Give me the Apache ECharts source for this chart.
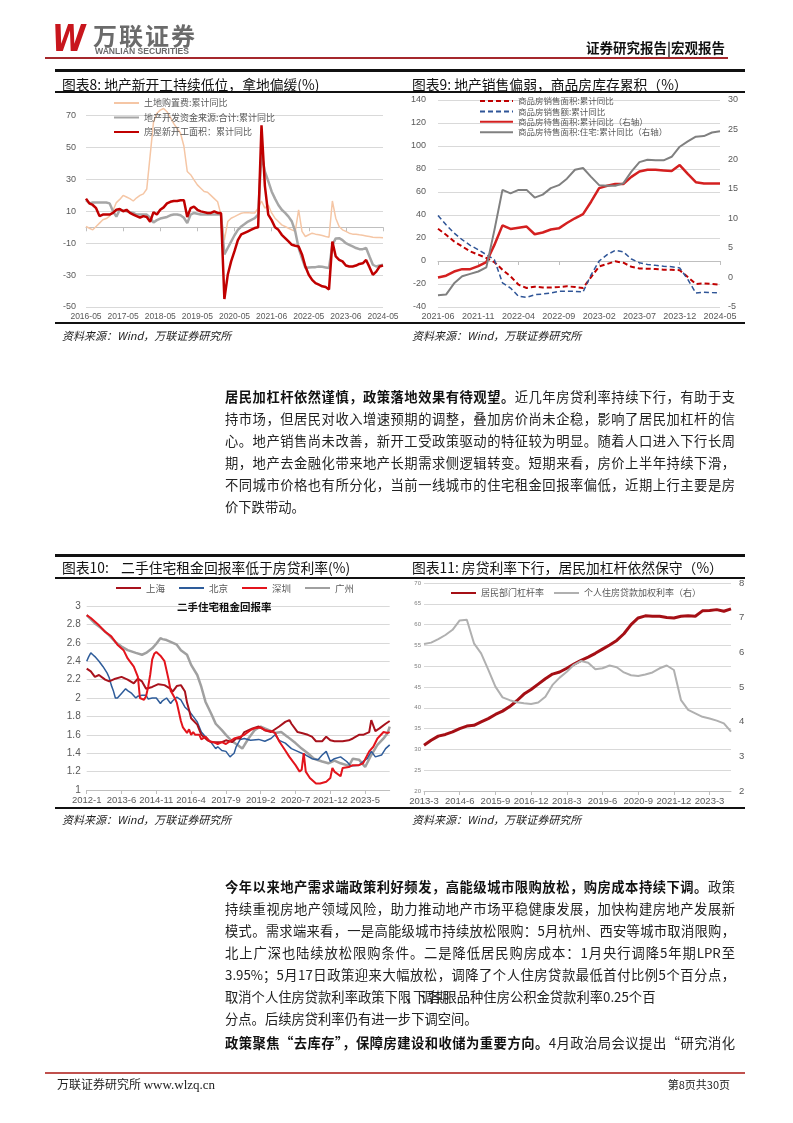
<!DOCTYPE html>
<html><head><meta charset="utf-8">
<script src="https://cdn.jsdelivr.net/npm/echarts/dist/echarts.min.js"></script>
<style>
body{margin:0;background:#fff;}
#page{position:relative;width:793px;height:1123px;overflow:hidden;font-family:"Noto Sans CJK SC",sans-serif;color:#222;background:#fff;}
#chart{position:absolute;left:0;top:0;width:793px;height:1123px;}
.abs{position:absolute;white-space:nowrap;}
.hl{position:absolute;}
.p{position:absolute;left:225px;width:510px;height:22px;line-height:22px;font-size:13.3px;text-align:justify;text-align-last:justify;color:#222;}
.p.l{text-align:left;text-align-last:left;}
.p b{font-weight:700;color:#111;}
.ttl{position:absolute;font-size:13.8px;line-height:18px;white-space:nowrap;color:#111;}
.src{position:absolute;font-size:11px;line-height:14px;font-style:italic;white-space:nowrap;color:#222;}
</style></head>
<body><div id="page">
<div id="chart"></div>

<!-- header -->
<div class="abs" style="left:52px;top:19px;font:italic 900 37px 'DejaVu Sans',sans-serif;color:#C8161D;letter-spacing:-3px;transform:scaleX(0.82);transform-origin:left top;line-height:40px;">W</div>
<div class="abs" style="left:93px;top:21px;font-size:24px;line-height:28px;font-weight:700;color:#6b6b6b;letter-spacing:2px;">万联证券</div>
<div class="abs" style="left:95px;top:47px;font:700 8.6px 'Liberation Sans',sans-serif;color:#6b6b6b;line-height:9px;">WANLIAN SECURITIES</div>
<div class="hl" style="left:45px;top:57px;width:683px;height:2px;background:#A5282C;"></div>
<div class="abs" style="right:68px;top:38px;font-size:13.5px;line-height:18px;font-weight:700;color:#111;">证券研究报告|宏观报告</div>

<!-- row 1 frame -->
<div class="hl" style="left:55px;top:69px;width:690px;height:2.5px;background:#111;"></div>
<div class="ttl" style="left:62px;top:75px;">图表8: 地产新开工持续低位，拿地偏缓(%)</div>
<div class="ttl" style="left:412px;top:75px;">图表9: 地产销售偏弱，商品房库存累积（%）</div>
<div class="hl" style="left:55px;top:91px;width:690px;height:1.5px;background:#111;"></div>
<div class="hl" style="left:55px;top:322px;width:690px;height:1.5px;background:#111;"></div>
<div class="src" style="left:62px;top:328px;">资料来源：Wind，万联证券研究所</div>
<div class="src" style="left:412px;top:328px;">资料来源：Wind，万联证券研究所</div>

<!-- paragraph 1 -->
<div class="p" style="top:386px;"><b>居民加杠杆依然谨慎，政策落地效果有待观望。</b>近几年房贷利率持续下行，有助于支</div>
<div class="p" style="top:408px;">持市场，但居民对收入增速预期的调整，叠加房价尚未企稳，影响了居民加杠杆的信</div>
<div class="p" style="top:430px;">心。地产销售尚未改善，新开工受政策驱动的特征较为明显。随着人口进入下行长周</div>
<div class="p" style="top:452px;">期，地产去金融化带来地产长期需求侧逻辑转变。短期来看，房价上半年持续下滑，</div>
<div class="p" style="top:474px;">不同城市价格也有所分化，当前一线城市的住宅租金回报率偏低，近期上行主要是房</div>
<div class="p l" style="top:496px;">价下跌带动。</div>

<!-- row 2 frame -->
<div class="hl" style="left:55px;top:554px;width:690px;height:2.5px;background:#111;"></div>
<div class="ttl" style="left:62px;top:558px;">图表10:&nbsp;&nbsp;&nbsp;&nbsp;二手住宅租金回报率低于房贷利率(%)</div>
<div class="ttl" style="left:412px;top:558px;">图表11: 房贷利率下行，居民加杠杆依然保守（%）</div>
<div class="hl" style="left:55px;top:577px;width:690px;height:1.5px;background:#111;"></div>
<div class="hl" style="left:55px;top:807px;width:690px;height:1.5px;background:#111;"></div>
<div class="src" style="left:62px;top:812px;">资料来源：Wind，万联证券研究所</div>
<div class="src" style="left:412px;top:812px;">资料来源：Wind，万联证券研究所</div>
<div class="abs" style="left:177px;top:600px;font-size:10.5px;line-height:14px;font-weight:700;color:#111;">二手住宅租金回报率</div>

<!-- paragraph 2 -->
<div class="p" style="top:876px;"><b>今年以来地产需求端政策利好频发，高能级城市限购放松，购房成本持续下调。</b>政策</div>
<div class="p" style="top:898px;">持续重视房地产领域风险，助力推动地产市场平稳健康发展，加快构建房地产发展新</div>
<div class="p" style="top:920px;">模式。需求端来看，一是高能级城市持续放松限购：5月杭州、西安等城市取消限购，</div>
<div class="p" style="top:942px;">北上广深也陆续放松限购条件。二是降低居民购房成本：1月央行调降5年期LPR至</div>
<div class="p" style="top:964px;">3.95%；5月17日政策迎来大幅放松，调降了个人住房贷款最低首付比例5个百分点，</div>
<div class="p l" style="top:986px;">取消个人住房贷款利率政策下<span style="letter-spacing:-5.7px;">限，下调各期</span>限品种住房公积金贷款利率0.25个百</div>
<div class="p l" style="top:1008px;">分点。后续房贷利率仍有进一步下调空间。</div>
<div class="p" style="top:1032px;"><b>政策聚焦“去库存”，保障房建设和收储为重要方向。</b>4月政治局会议提出“研究消化</div>

<!-- footer -->
<div class="hl" style="left:45px;top:1072px;width:700px;height:2px;background:#C0504D;"></div>
<div class="abs" style="left:57px;top:1076px;font-size:12px;line-height:16px;color:#222;">万联证券研究所 <span style="font-family:'Liberation Serif',serif;font-size:13px;">www.wlzq.cn</span></div>
<div class="abs" style="right:63px;top:1077px;font-size:11px;line-height:14px;color:#222;">第8页共30页</div>
</div>

<script>
// ---------- Chart 8 data ----------
const ticks8 = ['2016-05','2017-05','2018-05','2019-05','2020-05','2021-06','2022-05','2023-06','2024-05'];
const landCost8 = [0.5,-0.6,-1.6,0.5,2.6,4.7,5.5,7,10.5,15.5,
  17.5,20,19,18,16.5,18.5,20,21,24,45,
  66,71.5,73.5,74.5,72.5,69,65,62,59,51,
  35,33,29.7,26.6,24.5,22.4,22,20,18,16,
  7.8,-8,3.6,5.7,6.7,7.8,8.8,9.2,9.2,9,
  9,12,16.5,12,14,9,5.7,3.6,1.5,0.5,
  -0.6,-1.6,-2.6,11,-2.6,-5.8,-4.7,-3.7,-4.3,-4.7,
  -5.2,-5.8,-6.2,16.5,5.7,0.5,-1.6,-2.6,-3.7,-4.3,
  -4.3,-4.7,-5,-5.4,-5.8,-6.2,-6.4,-6.4,-6.5];
const funds8 = [17,15,15.5,15.5,15.5,15.5,15.5,15,10,6.7,
  11,10.5,10,9.5,9,8,8,8,8,6,
  3,4.5,5.5,6,6.5,7.5,8,8,7.5,6,
  2.6,8,9,8.5,8,8,8,8,8,8,
  8,-17,-13,-9,-5,-1.6,0.5,2,3.6,4.7,
  5.7,8,46,35,29,22.5,18,14,11,9,
  6.7,3.6,-2.6,-13,-19.5,-25.5,-25.2,-25,-25,-24.6,
  -24.8,-25.2,-25.6,-11,-7,-6.8,-8,-10,-11,-12,
  -13,-13.7,-13.7,-13,-18.3,-23.5,-24.6,-24,-23.5];
const newStart8 = [18,15,14,12,7,8,8,8,9,11,
  11.5,10,11,9,8,7,6,7,6.5,3.5,
  9.5,8,11,12.5,15,16,16.5,16.5,17,17,
  6.5,12,13,11,10,9.5,9,9,10,9,
  9,-45,-29.8,-21.4,-15,-8,-4.5,-3.5,-2.5,-1.5,
  -0.5,0,64,26,8,4.5,0,-1.6,-4.7,-6.8,
  -8.9,-11,-11.6,-12,-17,-24.6,-29.8,-33,-35,-36,
  -37,-37.5,-39,-9,-18.3,-20.4,-21.4,-24,-24.6,-24.6,
  -24,-23,-22.6,-20.5,-25,-29.8,-27.8,-24.6,-24];
const cats8 = (function(){const a=[];let y=2016,m=5;while(a.length<newStart8.length){a.push(y+'-'+String(m).padStart(2,'0'));m++;if(m>12){m=2;y++;}}return a;})();

// ---------- Chart 9 data ----------
const salesArea9 = [28,22.8,17,12.7,8.3,5.5,2.6,-1,-7.6,-13.4,-20.6,-23.5,-22.3,-23,-23,-22.6,-22,-22.6,-23.5,-14,-4.7,-2.6,-0.3,-1.5,-5,-6.5,-6.7,-7,-7.6,-7.6,-8,-14,-20,-19.5,-20,-20.6];
const salesAmt9 = [39.6,31.5,24.3,18.5,13.6,9.8,5.5,1.1,-19,-23.5,-30.7,-31.6,-29.3,-28.7,-27.8,-26.4,-26.4,-26.4,-27,-12,0,5.5,9.2,8,1.7,-1.5,-3,-3.8,-4.5,-5,-6,-16,-27.8,-27.2,-27.5,-27.8];
const stock9 = [0,0.3,1,1.4,1.4,1.9,2.6,5.5,8.8,8.2,8.4,8.6,7.3,7.6,8.1,8.3,9.2,10,10.7,12.8,15.1,15.5,15.8,15.8,17,17.9,18.2,18.2,18.1,18,19,17.5,16.1,15.9,15.9,15.9];
const stockRes9 = [-3,-2.9,-1,0.2,0.6,1,1.7,8,14.8,14.2,14.8,14.8,13.5,14,15.1,15.6,16.7,18.2,18.5,17,15.6,15.5,15.5,15.9,17.9,19.5,19.9,19.8,19.8,20.4,22.1,23,23.8,23.9,24.5,24.7];
const cats9 = (function(){const a=[];let y=2021,m=6;while(a.length<salesArea9.length){a.push(y+'-'+String(m).padStart(2,'0'));m++;if(m>12){m=1;y++;}}return a;})();

// ---------- Chart 10 data (month index from 2012-1, value) ----------
const ticks10 = ['2012-1','2013-6','2014-11','2016-4','2017-9','2019-2','2020-7','2021-12','2023-5'];
const shanghai10 = [[0,2.32],[2,2.29],[4,2.23],[6,2.25],[9,2.2],[11,2.18],[14,2.21],[17,2.23],[20,2.2],[23,2.16],[25,2.21],[27,2.18],[29,2.1],[32,2.12],[35,2.15],[38,2.14],[41,2.1],[42,2.07],[44,2.13],[46,2.14],[48,2.07],[49,1.95],[50,1.87],[51,1.78],[54,1.71],[56,1.6],[59,1.54],[61,1.52],[64,1.52],[66,1.52],[68,1.54],[71,1.52],[73,1.56],[75,1.56],[77,1.63],[81,1.67],[84,1.69],[87,1.65],[90,1.63],[94,1.69],[97,1.74],[99,1.76],[100,1.72],[103,1.63],[105,1.62],[108,1.6],[110,1.58],[112,1.53],[115,1.53],[117,1.58],[119,1.54],[121,1.53],[125,1.53],[128,1.54],[130,1.56],[133,1.6],[135,1.6],[138,1.63],[139,1.76],[141,1.64],[143,1.67],[146,1.72],[148,1.75]];
const beijing10 = [[0,2.4],[1,2.45],[2,2.49],[3,2.47],[4,2.45],[6,2.4],[8,2.34],[10,2.27],[11,2.22],[12,2.14],[13,2.08],[14,2.0],[15,2.0],[17,2.05],[19,2.1],[20,2.08],[22,2.05],[24,2.0],[25,2.02],[27,2.03],[29,2.03],[30,1.99],[32,2.0],[34,2.0],[36,1.94],[37,1.97],[39,2.0],[41,1.94],[42,1.97],[44,2.01],[46,1.98],[48,1.9],[50,1.86],[51,1.83],[54,1.74],[56,1.63],[58,1.58],[61,1.51],[63,1.45],[64,1.47],[66,1.43],[68,1.42],[70,1.36],[71,1.38],[72,1.4],[73,1.47],[75,1.55],[77,1.56],[80,1.54],[84,1.55],[87,1.53],[90,1.56],[92,1.6],[94,1.54],[97,1.51],[100,1.45],[103,1.42],[107,1.38],[110,1.34],[113,1.33],[115,1.38],[117,1.42],[119,1.31],[121,1.34],[124,1.36],[127,1.31],[129,1.26],[133,1.27],[135,1.31],[137,1.34],[139,1.42],[141,1.36],[144,1.38],[146,1.45],[148,1.49]];
const shenzhen10 = [[0,2.9],[2,2.87],[6,2.79],[9,2.72],[12,2.67],[15,2.58],[18,2.52],[20,2.43],[23,2.34],[25,2.23],[26,2.0],[28,1.98],[29,2.02],[30,2.12],[31,2.25],[32,2.42],[33,2.48],[34,2.5],[36,2.46],[38,2.4],[39,2.3],[40,2.2],[41,2.08],[42,2.04],[43,2.0],[44,1.95],[45,1.85],[46,1.75],[47,1.68],[48,1.65],[49,1.62],[50,1.66],[51,1.6],[52,1.63],[53,1.6],[55,1.6],[56,1.55],[58,1.58],[60,1.53],[62,1.52],[64,1.5],[66,1.52],[68,1.5],[70,1.53],[72,1.56],[75,1.58],[77,1.6],[80,1.65],[82,1.67],[85,1.68],[87,1.65],[90,1.64],[92,1.62],[94,1.53],[97,1.43],[99,1.36],[102,1.27],[104,1.2],[105,1.22],[106,1.4],[107,1.2],[109,1.13],[112,1.07],[114,1.07],[117,1.09],[119,1.13],[120,1.24],[121,1.2],[124,1.15],[125,1.24],[128,1.25],[130,1.27],[133,1.27],[135,1.29],[138,1.42],[140,1.47],[142,1.56],[145,1.63],[147,1.62],[148,1.63]];
const guangzhou10 = [[0,2.9],[4,2.81],[7,2.76],[11,2.68],[14,2.61],[17,2.56],[20,2.52],[24,2.49],[27,2.47],[29,2.49],[32,2.54],[34,2.59],[36,2.65],[37,2.64],[39,2.63],[41,2.61],[44,2.58],[46,2.52],[49,2.47],[51,2.36],[54,2.25],[56,2.12],[58,1.96],[61,1.82],[63,1.72],[66,1.65],[68,1.6],[71,1.53],[73,1.5],[76,1.45],[79,1.56],[82,1.65],[85,1.69],[89,1.65],[92,1.62],[95,1.63],[98,1.58],[102,1.51],[105,1.45],[108,1.4],[111,1.34],[115,1.31],[118,1.29],[121,1.32],[124,1.29],[127,1.27],[128,1.26],[130,1.34],[133,1.33],[136,1.25],[139,1.38],[142,1.49],[145,1.56],[147,1.62],[148,1.69]];

// ---------- Chart 11 data (quarterly) ----------
const leverage11 = [31,32.2,33.2,33.6,34.2,35,35.6,35.8,36.6,37.4,38.4,39.2,40.3,41.7,43.3,44.4,45.7,47,48.1,48.6,49.5,50.5,51.4,52.2,53.1,54.1,55.1,56.2,57.8,60,61.6,62.1,62,62,61.7,61.6,62,62.1,62,63.3,63.4,63.6,63.2,63.8];
const mortgage11 = [6.24,6.28,6.38,6.5,6.65,6.92,6.94,6.26,5.97,5.5,5.01,4.7,4.62,4.56,4.53,4.51,4.55,4.72,5.06,5.27,5.44,5.64,5.75,5.7,5.51,5.54,5.62,5.57,5.42,5.34,5.32,5.36,5.42,5.54,5.62,5.49,4.62,4.34,4.24,4.14,4.09,4.03,3.95,3.71];
const cats11 = (function(){const a=[];let y=2013,m=3;while(a.length<leverage11.length){a.push(y+'-'+m);m+=3;if(m>12){m=3;y++;}}return a;})();

// ---------- chart ----------
const FONT = '"Noto Sans CJK SC","Liberation Sans",sans-serif';
const NUM = '"Liberation Sans",Arial,sans-serif';
const GRIDC = '#D9D9D9';
const LBL = '#595959';
const chart = echarts.init(document.getElementById('chart'), null, {renderer:'canvas'});

function catX(grid, data, interval, extra){
  return Object.assign({type:'category', gridIndex:grid, data:data, boundaryGap:false,
    axisLine:{lineStyle:{color:'#BFBFBF'}},
    axisTick:{show:true, interval:interval, length:4, lineStyle:{color:'#BFBFBF'}},
    axisLabel:{interval:interval, color:LBL, fontFamily:NUM, fontSize:9, margin:5},
    splitLine:{show:false}}, extra||{});
}
function valY(grid, min, max, itv, extra){
  return Object.assign({type:'value', gridIndex:grid, min:min, max:max, interval:itv,
    axisLine:{show:false}, axisTick:{show:false},
    axisLabel:{color:LBL, fontFamily:NUM, fontSize:9},
    splitLine:{show:true, lineStyle:{color:GRIDC, width:1}}}, extra||{});
}
function ln(name, x, y, data, color, width, type){
  return {name:name, type:'line', xAxisIndex:x, yAxisIndex:y, data:data, symbol:'none', showSymbol:false,
    clip:false, lineStyle:{color:color, width:width, type:type||'solid'}, itemStyle:{color:color}, emphasis:{disabled:true}};
}
// legend: tiny icon height so the marker disappears under the line
const LEG = {padding:0, itemHeight:2, itemStyle:{opacity:0, borderWidth:0}};

const option = {
  animation:false,
  textStyle:{fontFamily:FONT},
  grid:[
    {left:86, top:115.7, width:297, height:191.3},
    {left:438, top:100, width:282, height:207},
    {left:86.7, top:606, width:303, height:184},
    {left:424, top:583, width:307, height:208}
  ],
  legend:[
    Object.assign({orient:'vertical', left:113, top:98, itemWidth:25, itemGap:4.5,
     textStyle:{fontSize:9, color:LBL, lineHeight:10},
     data:['土地购置费:累计同比','地产开发资金来源:合计:累计同比','房屋新开工面积：累计同比']}, LEG),
    Object.assign({orient:'vertical', left:479, top:96, itemWidth:33, itemGap:0.4,
     textStyle:{fontSize:8.5, color:LBL, lineHeight:10},
     data:['商品房销售面积:累计同比','商品房销售额:累计同比','商品房待售面积:累计同比（右轴）','商品房待售面积:住宅:累计同比（右轴）']}, LEG),
    Object.assign({orient:'horizontal', left:115, top:583, itemWidth:25, itemGap:13,
     textStyle:{fontSize:9.5, color:LBL, lineHeight:10},
     data:['上海','北京','深圳','广州']}, LEG),
    Object.assign({orient:'horizontal', left:450, top:588, itemWidth:25, itemGap:9,
     textStyle:{fontSize:9, color:LBL, lineHeight:10},
     data:['居民部门杠杆率','个人住房贷款加权利率（右）']}, LEG)
  ],
  xAxis:[
    catX(0, cats8, 10, {axisLabel:{interval:10, color:LBL, fontFamily:NUM, fontSize:8.5, margin:5,
      formatter:function(v,i){return i%11===0 ? (ticks8[i/11]||'') : '';}}}),
    catX(1, cats9, 4, {axisLabel:{interval:4, color:LBL, fontFamily:NUM, fontSize:9, margin:5}}),
    {type:'value', gridIndex:2, min:0, max:148, interval:17,
     axisLine:{lineStyle:{color:'#BFBFBF'}}, axisTick:{show:true, length:4, lineStyle:{color:'#BFBFBF'}},
     splitLine:{show:false},
     axisLabel:{color:LBL, fontFamily:NUM, fontSize:9.5, margin:5, showMaxLabel:false,
       formatter:function(v){return v%17===0 ? (ticks10[v/17]||'') : '';}}},
    catX(3, cats11, 4, {axisLabel:{interval:4, color:LBL, fontFamily:NUM, fontSize:9.5, margin:5}})
  ],
  yAxis:[
    valY(0, -50, 70, 20, {axisLabel:{color:LBL, fontFamily:NUM, fontSize:9, margin:10}}),
    valY(1, -40, 140, 20, {axisLabel:{color:LBL, fontFamily:NUM, fontSize:9, margin:12}}),
    valY(1, -5, 30, 5, {position:'right', splitLine:{show:false}, axisLabel:{color:LBL, fontFamily:NUM, fontSize:9, margin:8}}),
    valY(2, 1, 3, 0.2, {axisLabel:{color:LBL, fontFamily:NUM, fontSize:10, margin:6}}),
    valY(3, 20, 70, 5, {axisLabel:{color:'#7f7f7f', fontFamily:NUM, fontSize:6, margin:3}}),
    valY(3, 2, 8, 1, {position:'right', splitLine:{show:false}, axisLabel:{color:LBL, fontFamily:NUM, fontSize:9.5, margin:8}})
  ],
  series:[
    ln('土地购置费:累计同比', 0, 0, landCost8, '#F5C6A5', 1.5),
    ln('地产开发资金来源:合计:累计同比', 0, 0, funds8, '#A6A6A6', 2.5),
    ln('房屋新开工面积：累计同比', 0, 0, newStart8, '#C00000', 2.5),

    ln('商品房销售面积:累计同比', 1, 1, salesArea9, '#C00000', 2, [5,3]),
    ln('商品房销售额:累计同比', 1, 1, salesAmt9, '#2F5597', 1.5, [5,3]),
    ln('商品房待售面积:累计同比（右轴）', 1, 2, stock9, '#D42020', 2.5),
    ln('商品房待售面积:住宅:累计同比（右轴）', 1, 2, stockRes9, '#808080', 2),

    ln('广州', 2, 3, guangzhou10, '#A0A0A0', 2.5),
    ln('北京', 2, 3, beijing10, '#2E5C9A', 1.5),
    ln('上海', 2, 3, shanghai10, '#A8121C', 2),
    ln('深圳', 2, 3, shenzhen10, '#E3141C', 2),

    ln('居民部门杠杆率', 3, 4, leverage11, '#A50F15', 3),
    ln('个人住房贷款加权利率（右）', 3, 5, mortgage11, '#B0B0B0', 2)
  ]
};
chart.setOption(option);
</script>
</body></html>
